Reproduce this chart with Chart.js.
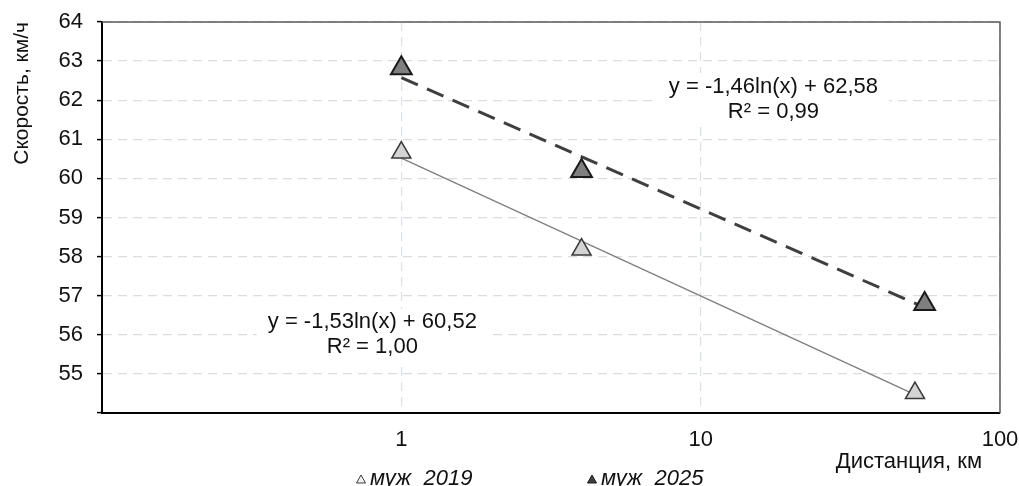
<!DOCTYPE html>
<html>
<head>
<meta charset="utf-8">
<script src="https://cdn.jsdelivr.net/npm/chart.js@4.4.1/dist/chart.umd.min.js"></script>
<style>
  html, body { margin: 0; padding: 0; background: #fff; }
  #wrap { width: 1019px; height: 486px; }
</style>
</head>
<body>
<div id="wrap"><canvas id="chart"></canvas></div>
<script>
// data
const seriesLabels = ['муж  2019', 'муж  2025'];

const dist2019 = [1, 4, 52];
const speed2019 = [60.66, 58.18, 54.51];
const dist2025 = [1, 4, 56];
const speed2025 = [62.82, 60.19, 56.79];

// trend line ends
const trendX2019 = [1, 52];
const trendY2019 = [60.52, 54.47];
const trendX2025 = [1, 56];
const trendY2025 = [62.58, 56.70];

const eq2019 = ['y = -1,53ln(x) + 60,52', 'R² = 1,00'];
const eq2025 = ['y = -1,46ln(x) + 62,58', 'R² = 0,99'];

const xTitle = 'Дистанция, км';
const yTitle = 'Скорость, км/ч';

const xTicks = [0.1, 1, 10, 100];
const xTickLabels = ['', '1', '10', '100'];
const yMin = 54;
const yMax = 64;

const FONT = '"Liberation Sans", Arial, sans-serif';
const TEXT = '#111';

function pts(xs, ys)
{
    return xs.map((x, i) => ({ x: x, y: ys[i] }));
}

// equation boxes, placed in data units
const eqPlace = [
    { lines: eq2019, x: 0.8, y: 56.0 },
    { lines: eq2025, x: 17.5, y: 62.03 }
];

const extras = {
    id: 'extras',
    beforeDatasetsDraw(chart)
    {
        const { ctx, chartArea: a, scales } = chart;
        ctx.save();

        // top and right frame
        ctx.strokeStyle = '#5a5a5a';
        ctx.lineWidth = 1.5;
        ctx.beginPath();
        ctx.moveTo(a.left, a.top);
        ctx.lineTo(a.right, a.top);
        ctx.lineTo(a.right, a.bottom);
        ctx.stroke();

        // equations with white backing
        ctx.font = '22px ' + FONT;
        ctx.textAlign = 'center';
        ctx.textBaseline = 'middle';
        const lh = 25;
        eqPlace.forEach((e) => {
            const cx = scales.x.getPixelForValue(e.x);
            const cy = scales.y.getPixelForValue(e.y);
            const w = Math.max(...e.lines.map((t) => ctx.measureText(t).width)) + 22;
            const h = lh * e.lines.length + 2;
            ctx.fillStyle = '#fff';
            ctx.fillRect(cx - w / 2, cy - h / 2, w, h);
            ctx.fillStyle = TEXT;
            e.lines.forEach((t, i) => {
                ctx.fillText(t, cx, cy - lh / 2 + i * lh);
            });
        });
        ctx.restore();
    },
    afterDraw(chart)
    {
        const { ctx, chartArea: a } = chart;
        ctx.save();

        // x axis title, a bit in from the right edge
        ctx.font = '22px ' + FONT;
        ctx.fillStyle = TEXT;
        ctx.textAlign = 'right';
        ctx.textBaseline = 'middle';
        ctx.fillText(xTitle, a.right - 18, a.bottom + 49);

        // legend under the axis
        const items = chart.data.datasets.filter((d) => !d.showLine);
        ctx.font = 'italic 22px ' + FONT;
        ctx.textAlign = 'left';
        const y = 479;
        items.forEach((d, i) => {
            const x = a.left + 259 + i * 231;
            ctx.fillStyle = d.legendFill;
            ctx.strokeStyle = d.borderColor;
            ctx.lineWidth = 1;
            ctx.beginPath();
            ctx.moveTo(x, y - 4);
            ctx.lineTo(x + 4.5, y + 4);
            ctx.lineTo(x - 4.5, y + 4);
            ctx.closePath();
            ctx.fill();
            ctx.stroke();
            ctx.fillStyle = TEXT;
            ctx.fillText(d.label, x + 9, y);
        });
        ctx.restore();
    }
};

new Chart(document.getElementById('chart'), {
    type: 'scatter',
    data: {
        datasets: [
            {
                label: seriesLabels[0],
                data: pts(dist2019, speed2019),
                pointStyle: 'triangle',
                pointRadius: 11,
                pointHoverRadius: 11,
                backgroundColor: '#d4d4d4',
                borderColor: '#3a3a3a',
                pointBorderWidth: 1.5,
                legendFill: '#f2f2f2',
                order: 1
            },
            {
                label: seriesLabels[1],
                data: pts(dist2025, speed2025),
                pointStyle: 'triangle',
                pointRadius: 12,
                pointHoverRadius: 12,
                backgroundColor: '#7f7f7f',
                borderColor: '#1a1a1a',
                pointBorderWidth: 2,
                legendFill: '#404040',
                order: 1
            },
            {
                label: 'trend 2019',
                data: pts(trendX2019, trendY2019),
                showLine: true,
                borderColor: '#808080',
                borderWidth: 1.5,
                pointRadius: 0,
                order: 2
            },
            {
                label: 'trend 2025',
                data: pts(trendX2025, trendY2025),
                showLine: true,
                borderColor: '#3f3f3f',
                borderWidth: 3,
                borderDash: [18, 10],
                pointRadius: 0,
                order: 2
            }
        ]
    },
    options: {
        responsive: true,
        maintainAspectRatio: false,
        animation: false,
        layout: { padding: { left: 10, top: 22, right: 19, bottom: 12 } },
        plugins: {
            legend: { display: false },
            tooltip: { enabled: false }
        },
        scales: {
            x: {
                type: 'logarithmic',
                min: xTicks[0],
                max: xTicks[xTicks.length - 1],
                afterBuildTicks: (scale) => {
                    scale.ticks = xTicks.map((v) => ({ value: v }));
                },
                afterFit: (scale) => {
                    scale.height = 61;
                    scale.paddingLeft = 0;
                    scale.paddingRight = 0;
                },
                ticks: {
                    padding: 14,
                    color: TEXT,
                    font: { family: FONT, size: 22 },
                    callback: (v) => xTickLabels[xTicks.indexOf(v)] ?? '',
                    maxRotation: 0,
                    autoSkip: false
                },
                grid: {
                    color: '#dbe1ea',
                    lineWidth: 1.2,
                    drawTicks: false
                },
                border: { color: '#000', width: 2, dash: [9, 6] }
            },
            y: {
                min: yMin,
                max: yMax,
                afterFit: (scale) => {
                    scale.width = 92;
                    scale.paddingTop = 0;
                    scale.paddingBottom = 0;
                },
                ticks: {
                    stepSize: 1,
                    padding: 14,
                    color: TEXT,
                    font: { family: FONT, size: 22 },
                    callback: (v) => (v === yMin ? '' : v)
                },
                grid: {
                    color: '#dcdcdc',
                    lineWidth: 1.2,
                    tickLength: 5,
                    tickColor: '#000',
                    tickWidth: 1.5,
                    tickBorderDash: []
                },
                border: { color: '#000', width: 2, dash: [9, 6] },
                title: {
                    display: true,
                    text: yTitle,
                    align: 'end',
                    color: TEXT,
                    font: { family: FONT, size: 21 },
                    padding: { top: 0, bottom: 0 }
                }
            }
        }
    },
    plugins: [extras]
});
</script>
</body>
</html>
